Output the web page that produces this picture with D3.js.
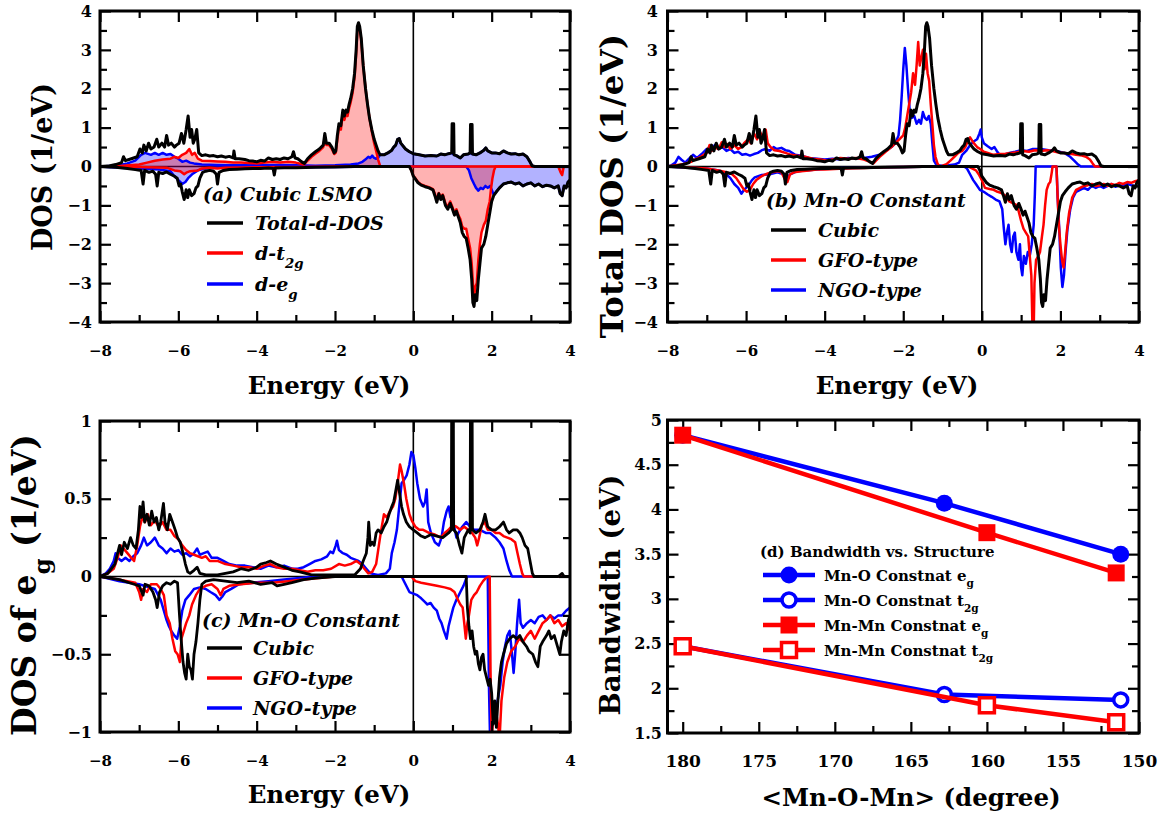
<!DOCTYPE html>
<html>
<head>
<meta charset="utf-8">
<script src="https://cdn.jsdelivr.net/npm/d3@7"></script>
<style>
  body { margin: 0; background: #fff; }
  svg { display: block; }
  text { font-family: "DejaVu Serif", serif; font-weight: bold; fill: #000; }
</style>
</head>
<body>
<svg id="fig" width="1167" height="816"></svg>
<script>
// ---------- Energy-resolved DOS, [E (eV), DOS (1/eV)] pairs ----------

// Cubic LSMO, total Mn-d DOS (shared by panels a and b)
const cubicTotUp = [[-8,0],[-7.8,0.01],[-7.6,0.05],[-7.45,0.1],[-7.4,0.25],[-7.35,0.15],[-7.2,0.2],[-7.05,0.25],[-6.98,0.45],[-6.92,0.35],[-6.88,0.55],[-6.82,0.4],[-6.76,0.6],[-6.7,0.45],[-6.62,0.5],[-6.55,0.7],[-6.5,0.5],[-6.42,0.6],[-6.35,0.5],[-6.3,0.8],[-6.25,0.55],[-6.18,0.6],[-6.1,0.5],[-6.05,0.55],[-5.98,0.6],[-5.92,0.85],[-5.86,0.6],[-5.8,0.95],[-5.75,1.3],[-5.7,0.75],[-5.66,0.95],[-5.62,0.6],[-5.58,0.7],[-5.53,0.95],[-5.48,0.35],[-5.4,0.28],[-5.3,0.3],[-5.2,0.27],[-5.1,0.28],[-5.0,0.25],[-4.9,0.27],[-4.8,0.24],[-4.7,0.26],[-4.6,0.22],[-4.58,0.4],[-4.55,0.2],[-4.45,0.2],[-4.3,0.18],[-4.2,0.15],[-4.1,0.14],[-4.0,0.12],[-3.9,0.16],[-3.8,0.14],[-3.7,0.22],[-3.6,0.18],[-3.5,0.2],[-3.4,0.18],[-3.3,0.22],[-3.2,0.2],[-3.1,0.25],[-3.06,0.38],[-3.02,0.22],[-2.95,0.2],[-2.85,0.12],[-2.78,0.08],[-2.7,0.2],[-2.6,0.3],[-2.5,0.38],[-2.4,0.45],[-2.3,0.55],[-2.26,0.85],[-2.22,0.6],[-2.15,0.6],[-2.08,0.5],[-2.02,0.35],[-1.98,0.4],[-1.94,0.8],[-1.9,1.1],[-1.85,1.05],[-1.8,1.45],[-1.76,1.3],[-1.72,1.45],[-1.68,1.4],[-1.64,1.6],[-1.6,1.75],[-1.55,2.0],[-1.5,2.4],[-1.46,3.0],[-1.43,3.6],[-1.4,3.7],[-1.37,3.6],[-1.33,3.3],[-1.28,2.6],[-1.22,2.0],[-1.17,1.6],[-1.12,1.25],[-1.06,0.95],[-1.0,0.7],[-0.95,0.55],[-0.9,0.4],[-0.85,0.3],[-0.75,0.3],[-0.65,0.35],[-0.55,0.42],[-0.5,0.5],[-0.45,0.55],[-0.4,0.7],[-0.36,0.72],[-0.32,0.6],[-0.28,0.55],[-0.2,0.45],[-0.1,0.38],[0,0.33],[0.15,0.3],[0.3,0.27],[0.45,0.28],[0.6,0.27],[0.7,0.32],[0.8,0.3],[0.9,0.33],[0.98,0.35],[0.99,1.1],[1.03,1.1],[1.04,0.3],[1.1,0.28],[1.2,0.22],[1.28,0.3],[1.4,0.32],[1.45,0.35],[1.46,1.08],[1.5,1.08],[1.51,0.32],[1.6,0.3],[1.7,0.35],[1.8,0.42],[1.85,0.48],[1.9,0.4],[2.0,0.35],[2.1,0.35],[2.2,0.33],[2.3,0.4],[2.4,0.35],[2.5,0.32],[2.6,0.33],[2.7,0.3],[2.8,0.32],[2.9,0.25],[2.98,0.12],[3.03,0.02],[3.1,0],[4,0]];
const cubicTotDn = [[-8,0],[-7.6,-0.02],[-7.3,-0.05],[-7.1,-0.08],[-6.95,-0.1],[-6.9,-0.45],[-6.86,-0.1],[-6.75,-0.15],[-6.65,-0.12],[-6.58,-0.2],[-6.54,-0.5],[-6.5,-0.15],[-6.4,-0.18],[-6.3,-0.14],[-6.2,-0.2],[-6.1,-0.25],[-6.03,-0.3],[-5.98,-0.5],[-5.94,-0.45],[-5.9,-0.65],[-5.85,-0.85],[-5.8,-0.6],[-5.76,-0.8],[-5.72,-0.6],[-5.66,-0.75],[-5.6,-0.7],[-5.55,-0.55],[-5.5,-0.5],[-5.45,-0.3],[-5.38,-0.15],[-5.3,-0.12],[-5.2,-0.1],[-5.1,-0.12],[-5.03,-0.2],[-5.0,-0.45],[-4.96,-0.15],[-4.85,-0.1],[-4.7,-0.08],[-4.5,-0.07],[-4.3,-0.06],[-4.1,-0.05],[-3.9,-0.05],[-3.7,-0.04],[-3.58,-0.05],[-3.55,-0.22],[-3.52,-0.04],[-3.3,-0.03],[-3.0,-0.03],[-2.5,-0.02],[-2.0,-0.01],[-1.5,0],[-0.1,0],[-0.05,-0.1],[0.0,-0.25],[0.05,-0.32],[0.12,-0.42],[0.2,-0.48],[0.3,-0.52],[0.4,-0.55],[0.5,-0.6],[0.55,-0.75],[0.6,-0.92],[0.65,-0.7],[0.7,-0.85],[0.75,-0.75],[0.82,-1.0],[0.88,-1.1],[0.94,-0.95],[1.0,-1.1],[1.05,-1.25],[1.1,-1.15],[1.15,-1.3],[1.2,-1.45],[1.25,-1.7],[1.3,-1.8],[1.35,-1.85],[1.4,-2.1],[1.45,-2.4],[1.49,-2.9],[1.52,-3.5],[1.55,-3.6],[1.58,-3.3],[1.62,-3.45],[1.66,-2.9],[1.7,-2.5],[1.74,-2.1],[1.8,-2.0],[1.85,-1.8],[1.9,-1.5],[1.95,-1.2],[2.0,-0.9],[2.05,-0.75],[2.12,-0.65],[2.2,-0.55],[2.3,-0.45],[2.4,-0.42],[2.5,-0.4],[2.6,-0.45],[2.7,-0.42],[2.8,-0.5],[2.9,-0.45],[3.0,-0.42],[3.1,-0.5],[3.2,-0.45],[3.3,-0.52],[3.4,-0.48],[3.5,-0.5],[3.6,-0.55],[3.7,-0.5],[3.75,-0.7],[3.8,-0.75],[3.85,-0.5],[3.9,-0.55],[3.95,-0.4],[4,-0.35]];

// Cubic LSMO, t2g and eg projections (panel a)
const lsmoT2gUp = [[-8,0],[-7.5,0.01],[-7.0,0.05],[-6.8,0.1],[-6.6,0.15],[-6.4,0.18],[-6.2,0.2],[-6.1,0.25],[-6.0,0.22],[-5.9,0.3],[-5.8,0.35],[-5.72,0.45],[-5.65,0.3],[-5.58,0.35],[-5.5,0.2],[-5.4,0.15],[-5.2,0.14],[-5.0,0.13],[-4.8,0.12],[-4.6,0.1],[-4.4,0.1],[-4.2,0.09],[-4.0,0.08],[-3.8,0.1],[-3.6,0.12],[-3.4,0.1],[-3.2,0.12],[-3.0,0.1],[-2.8,0.05],[-2.7,0.15],[-2.6,0.25],[-2.5,0.33],[-2.4,0.4],[-2.3,0.5],[-2.26,0.75],[-2.22,0.55],[-2.15,0.55],[-2.08,0.45],[-2.02,0.32],[-1.98,0.36],[-1.94,0.7],[-1.9,1.0],[-1.85,0.95],[-1.8,1.35],[-1.76,1.2],[-1.72,1.35],[-1.68,1.3],[-1.64,1.5],[-1.6,1.65],[-1.55,1.9],[-1.5,2.3],[-1.46,2.9],[-1.43,3.5],[-1.4,3.62],[-1.37,3.55],[-1.33,3.25],[-1.28,2.6],[-1.22,2.0],[-1.17,1.6],[-1.12,1.25],[-1.06,0.9],[-1.0,0.6],[-0.95,0.4],[-0.9,0.18],[-0.85,0.02],[-0.82,0],[4,0]];
const lsmoT2gDn = [[-8,0],[-7,-0.01],[-6.3,-0.03],[-6.1,-0.1],[-5.95,-0.12],[-5.85,-0.2],[-5.78,-0.15],[-5.7,-0.12],[-5.5,-0.1],[-5.4,-0.05],[-5.2,-0.03],[-5.0,-0.05],[-4.8,-0.03],[-4,-0.02],[-3,-0.01],[-2,0],[-0.1,0],[-0.05,-0.1],[0.0,-0.24],[0.05,-0.3],[0.12,-0.4],[0.2,-0.46],[0.3,-0.5],[0.4,-0.53],[0.5,-0.58],[0.55,-0.7],[0.6,-0.88],[0.65,-0.68],[0.7,-0.8],[0.75,-0.72],[0.82,-0.95],[0.88,-1.05],[0.94,-0.9],[1.0,-1.05],[1.05,-1.2],[1.1,-1.1],[1.15,-1.25],[1.2,-1.35],[1.25,-1.55],[1.3,-1.6],[1.35,-1.6],[1.4,-1.85],[1.45,-2.1],[1.49,-2.5],[1.52,-3.0],[1.55,-3.4],[1.58,-3.1],[1.62,-3.0],[1.66,-2.4],[1.7,-2.0],[1.74,-1.7],[1.8,-1.5],[1.85,-1.4],[1.9,-1.1],[1.95,-0.9],[1.98,-0.6],[2.02,-0.3],[2.06,-0.1],[2.1,0],[3.7,0],[3.76,-0.15],[3.8,-0.22],[3.84,0],[4,0]];
const lsmoEgUp = [[-8,0],[-7.6,0.02],[-7.3,0.08],[-7.1,0.15],[-6.95,0.3],[-6.85,0.35],[-6.7,0.3],[-6.6,0.35],[-6.5,0.3],[-6.4,0.35],[-6.3,0.3],[-6.2,0.32],[-6.1,0.25],[-6.0,0.2],[-5.9,0.12],[-5.8,0.15],[-5.7,0.1],[-5.6,0.08],[-5.4,0.05],[-5.0,0.04],[-4.5,0.03],[-4.0,0.03],[-3.5,0.04],[-3.0,0.03],[-2.5,0.02],[-2.0,0.03],[-1.6,0.05],[-1.4,0.08],[-1.3,0.12],[-1.2,0.2],[-1.15,0.25],[-1.1,0.22],[-1.05,0.28],[-1.0,0.22],[-0.95,0.2],[-0.9,0.22],[-0.85,0.3],[-0.75,0.3],[-0.65,0.35],[-0.55,0.42],[-0.5,0.5],[-0.45,0.55],[-0.4,0.7],[-0.36,0.72],[-0.32,0.6],[-0.28,0.55],[-0.2,0.45],[-0.1,0.38],[0,0.33],[0.15,0.3],[0.3,0.27],[0.45,0.28],[0.6,0.27],[0.7,0.32],[0.8,0.3],[0.9,0.33],[0.98,0.35],[1.04,0.3],[1.1,0.28],[1.2,0.22],[1.28,0.3],[1.4,0.32],[1.45,0.35],[1.51,0.32],[1.6,0.3],[1.7,0.35],[1.8,0.42],[1.85,0.48],[1.9,0.4],[2.0,0.35],[2.1,0.35],[2.2,0.33],[2.3,0.4],[2.4,0.35],[2.5,0.32],[2.6,0.33],[2.7,0.3],[2.8,0.32],[2.9,0.25],[2.98,0.12],[3.03,0.02],[3.1,0],[4,0]];
const lsmoEgDn = [[-8,0],[-7.5,-0.03],[-7,-0.05],[-6.5,-0.08],[-6.2,-0.12],[-6.1,-0.25],[-6.0,-0.35],[-5.9,-0.45],[-5.82,-0.4],[-5.75,-0.3],[-5.65,-0.2],[-5.5,-0.1],[-5.3,-0.05],[-5,-0.03],[-4,-0.02],[-3,-0.02],[-2,-0.01],[-1,0],[1.35,0],[1.42,-0.1],[1.48,-0.3],[1.55,-0.45],[1.6,-0.55],[1.66,-0.62],[1.72,-0.55],[1.78,-0.58],[1.84,-0.5],[1.9,-0.55],[1.96,-0.5],[2.0,-0.6],[2.05,-0.72],[2.12,-0.65],[2.2,-0.55],[2.3,-0.45],[2.4,-0.42],[2.5,-0.4],[2.6,-0.45],[2.7,-0.42],[2.8,-0.5],[2.9,-0.45],[3.0,-0.42],[3.1,-0.5],[3.2,-0.45],[3.3,-0.52],[3.4,-0.48],[3.5,-0.5],[3.6,-0.55],[3.7,-0.5],[3.75,-0.7],[3.8,-0.75],[3.85,-0.5],[3.9,-0.55],[3.95,-0.4],[4,-0.35]];

// Mn-O constant distortions, total Mn-d DOS (panel b)
const gfoUp = [[-8,0],[-7.8,0.03],[-7.6,0.06],[-7.4,0.12],[-7.3,0.18],[-7.15,0.25],[-7.0,0.35],[-6.93,0.55],[-6.88,0.4],[-6.8,0.5],[-6.7,0.45],[-6.62,0.62],[-6.55,0.5],[-6.48,0.58],[-6.4,0.45],[-6.3,0.55],[-6.2,0.45],[-6.12,0.5],[-6.05,0.6],[-5.95,0.7],[-5.88,0.6],[-5.8,0.85],[-5.72,0.7],[-5.65,0.9],[-5.58,0.75],[-5.5,0.95],[-5.45,0.6],[-5.38,0.5],[-5.28,0.42],[-5.15,0.4],[-5.0,0.35],[-4.85,0.3],[-4.7,0.28],[-4.5,0.25],[-4.3,0.2],[-4.1,0.18],[-3.95,0.15],[-3.8,0.18],[-3.6,0.22],[-3.4,0.2],[-3.2,0.22],[-3.0,0.18],[-2.85,0.12],[-2.76,0.08],[-2.6,0.25],[-2.45,0.38],[-2.3,0.5],[-2.2,0.6],[-2.1,0.7],[-2.0,0.8],[-1.95,1.0],[-1.9,1.3],[-1.85,1.6],[-1.8,1.9],[-1.75,2.4],[-1.7,2.1],[-1.66,2.6],[-1.62,3.2],[-1.58,2.6],[-1.54,2.8],[-1.5,3.0],[-1.46,2.5],[-1.42,2.9],[-1.38,2.4],[-1.34,2.2],[-1.3,1.6],[-1.26,1.1],[-1.22,0.55],[-1.18,0.25],[-1.13,0.08],[-1.08,0.0],[-1.0,0.02],[-0.9,0.06],[-0.8,0.15],[-0.7,0.25],[-0.6,0.35],[-0.5,0.4],[-0.42,0.5],[-0.36,0.65],[-0.3,0.75],[-0.22,0.62],[-0.12,0.5],[-0.04,0.45],[0.05,0.38],[0.15,0.35],[0.3,0.3],[0.45,0.32],[0.6,0.33],[0.75,0.35],[0.9,0.37],[1.05,0.4],[1.2,0.38],[1.35,0.42],[1.5,0.4],[1.65,0.42],[1.8,0.4],[1.95,0.36],[2.1,0.35],[2.25,0.33],[2.4,0.3],[2.55,0.28],[2.65,0.25],[2.75,0.18],[2.82,0.08],[2.88,0.0],[4,0]];
const gfoDn = [[-8,0],[-7.5,-0.02],[-7.0,-0.05],[-6.7,-0.1],[-6.5,-0.15],[-6.35,-0.2],[-6.25,-0.3],[-6.15,-0.45],[-6.05,-0.6],[-5.98,-0.65],[-5.9,-0.6],[-5.82,-0.45],[-5.74,-0.35],[-5.65,-0.28],[-5.55,-0.22],[-5.45,-0.18],[-5.35,-0.15],[-5.2,-0.12],[-5.1,-0.15],[-5.0,-0.35],[-4.95,-0.4],[-4.88,-0.2],[-4.78,-0.15],[-4.6,-0.12],[-4.4,-0.1],[-4.2,-0.08],[-4.0,-0.08],[-3.5,-0.05],[-3.0,-0.04],[-2.5,-0.02],[-2.0,-0.01],[-1.0,0],[-0.35,0],[-0.25,-0.05],[-0.15,-0.1],[-0.08,-0.2],[0.0,-0.35],[0.08,-0.55],[0.2,-0.58],[0.3,-0.6],[0.4,-0.65],[0.5,-0.68],[0.6,-0.75],[0.7,-0.9],[0.8,-0.95],[0.9,-1.0],[0.95,-1.2],[1.0,-1.4],[1.06,-1.6],[1.12,-1.7],[1.18,-1.8],[1.22,-2.3],[1.26,-2.8],[1.29,-4.2],[1.32,-4.2],[1.34,-3.0],[1.38,-2.4],[1.44,-2.3],[1.48,-2.2],[1.53,-1.8],[1.57,-1.5],[1.61,-1.0],[1.65,-0.6],[1.7,-0.45],[1.74,-0.4],[1.78,-0.15],[1.8,0.0],[1.9,0.0],[1.93,-0.8],[1.96,-1.5],[2.0,-2.0],[2.04,-2.4],[2.08,-2.6],[2.12,-2.2],[2.16,-1.7],[2.22,-1.2],[2.3,-0.8],[2.4,-0.6],[2.5,-0.55],[2.6,-0.5],[2.7,-0.48],[2.8,-0.45],[2.9,-0.5],[3.0,-0.48],[3.1,-0.45],[3.2,-0.5],[3.3,-0.45],[3.4,-0.48],[3.5,-0.42],[3.6,-0.45],[3.7,-0.4],[3.8,-0.42],[3.9,-0.38],[4.0,-0.35]];
const ngoUp = [[-8,0],[-7.9,0.03],[-7.8,0.1],[-7.72,0.25],[-7.65,0.18],[-7.55,0.1],[-7.45,0.2],[-7.35,0.3],[-7.25,0.22],[-7.1,0.35],[-7.0,0.45],[-6.9,0.4],[-6.8,0.55],[-6.7,0.45],[-6.6,0.5],[-6.5,0.4],[-6.4,0.45],[-6.3,0.35],[-6.2,0.38],[-6.1,0.3],[-6.0,0.32],[-5.9,0.28],[-5.8,0.32],[-5.7,0.35],[-5.6,0.42],[-5.5,0.45],[-5.4,0.4],[-5.3,0.5],[-5.22,0.45],[-5.1,0.48],[-5.0,0.42],[-4.9,0.4],[-4.75,0.3],[-4.6,0.28],[-4.4,0.22],[-4.2,0.2],[-4.0,0.18],[-3.8,0.2],[-3.6,0.18],[-3.4,0.22],[-3.2,0.2],[-3.0,0.22],[-2.8,0.25],[-2.6,0.3],[-2.45,0.4],[-2.3,0.5],[-2.2,0.6],[-2.12,0.8],[-2.08,1.2],[-2.04,1.8],[-2.0,2.5],[-1.96,3.05],[-1.92,2.6],[-1.88,2.0],[-1.84,1.5],[-1.78,1.25],[-1.72,1.3],[-1.66,1.1],[-1.6,1.2],[-1.55,1.1],[-1.5,1.4],[-1.45,1.25],[-1.4,1.2],[-1.35,1.3],[-1.3,1.1],[-1.26,0.6],[-1.22,0.15],[-1.15,0.03],[-1.0,0.02],[-0.85,0.03],[-0.7,0.05],[-0.58,0.1],[-0.5,0.3],[-0.4,0.4],[-0.3,0.55],[-0.2,0.65],[-0.12,0.7],[-0.06,0.85],[-0.03,0.95],[0.0,0.75],[0.05,0.6],[0.15,0.52],[0.25,0.45],[0.32,0.5],[0.38,0.4],[0.45,0.3],[0.55,0.3],[0.7,0.35],[0.85,0.38],[1.0,0.42],[1.15,0.4],[1.3,0.45],[1.5,0.45],[1.7,0.42],[1.9,0.4],[2.1,0.35],[2.25,0.25],[2.35,0.15],[2.45,0.05],[2.52,0.0],[4,0]];
const ngoDn = [[-8,0],[-7.5,-0.03],[-7.0,-0.05],[-6.7,-0.1],[-6.5,-0.2],[-6.4,-0.3],[-6.3,-0.45],[-6.2,-0.55],[-6.12,-0.7],[-6.05,-0.6],[-5.95,-0.5],[-5.85,-0.35],[-5.78,-0.28],[-5.6,-0.22],[-5.4,-0.2],[-5.2,-0.15],[-5.05,-0.2],[-4.95,-0.28],[-4.88,-0.2],[-4.7,-0.12],[-4.5,-0.1],[-4.2,-0.08],[-4.0,-0.06],[-3.5,-0.04],[-3.0,-0.03],[-2.5,-0.02],[-2.0,-0.01],[-1.0,0],[-0.45,0],[-0.38,-0.05],[-0.3,-0.2],[-0.22,-0.35],[-0.15,-0.45],[-0.05,-0.6],[0.05,-0.65],[0.15,-0.72],[0.25,-0.78],[0.35,-0.85],[0.45,-0.9],[0.52,-1.1],[0.56,-1.6],[0.6,-2.0],[0.64,-1.7],[0.68,-1.5],[0.72,-2.0],[0.76,-2.2],[0.8,-1.8],[0.84,-1.7],[0.88,-2.2],[0.93,-2.4],[0.97,-2.0],[1.0,-2.6],[1.03,-2.8],[1.07,-2.3],[1.12,-2.5],[1.17,-2.2],[1.22,-2.3],[1.27,-2.0],[1.32,-1.5],[1.35,-0.7],[1.37,0.0],[1.9,0.0],[1.93,-0.8],[1.97,-1.6],[2.01,-2.6],[2.05,-3.1],[2.09,-2.8],[2.13,-2.2],[2.18,-1.6],[2.25,-1.1],[2.32,-0.8],[2.4,-0.65],[2.5,-0.6],[2.6,-0.55],[2.7,-0.6],[2.8,-0.5],[2.9,-0.55],[3.0,-0.5],[3.1,-0.55],[3.2,-0.5],[3.3,-0.45],[3.4,-0.52],[3.5,-0.48],[3.6,-0.5],[3.7,-0.45],[3.8,-0.48],[3.9,-0.5],[4.0,-0.5]];

// Mn-O constant distortions, eg-projected DOS (panel c)
const cubicEgUp = [[-8,0],[-7.8,0.02],[-7.62,0.08],[-7.55,0.15],[-7.5,0.2],[-7.45,0.14],[-7.38,0.22],[-7.3,0.18],[-7.22,0.25],[-7.15,0.2],[-7.08,0.18],[-7.02,0.3],[-6.98,0.45],[-6.94,0.38],[-6.9,0.48],[-6.86,0.35],[-6.8,0.4],[-6.74,0.33],[-6.68,0.42],[-6.62,0.35],[-6.56,0.38],[-6.5,0.3],[-6.45,0.35],[-6.38,0.47],[-6.34,0.35],[-6.28,0.3],[-6.22,0.4],[-6.15,0.35],[-6.08,0.3],[-6.02,0.25],[-5.95,0.22],[-5.88,0.15],[-5.82,0.08],[-5.76,0.03],[-5.7,0.02],[-5.6,0.04],[-5.52,0.06],[-5.45,0.02],[-5.3,0.01],[-5.0,0.01],[-4.8,0.02],[-4.6,0.03],[-4.4,0.05],[-4.2,0.04],[-4.0,0.06],[-3.9,0.08],[-3.75,0.09],[-3.65,0.1],[-3.5,0.08],[-3.3,0.06],[-3.1,0.04],[-2.9,0.03],[-2.6,0.01],[-2.0,0.01],[-1.5,0.01],[-1.35,0.05],[-1.28,0.1],[-1.2,0.15],[-1.16,0.25],[-1.14,0.35],[-1.1,0.2],[-1.05,0.22],[-1.0,0.2],[-0.95,0.28],[-0.9,0.3],[-0.82,0.28],[-0.75,0.32],[-0.68,0.35],[-0.62,0.4],[-0.55,0.45],[-0.5,0.48],[-0.45,0.55],[-0.4,0.62],[-0.36,0.55],[-0.3,0.45],[-0.25,0.4],[-0.18,0.35],[-0.1,0.32],[0.0,0.3],[0.1,0.28],[0.2,0.26],[0.3,0.25],[0.45,0.27],[0.6,0.26],[0.75,0.25],[0.9,0.28],[0.97,0.3],[0.98,1.2],[1.02,1.2],[1.03,0.3],[1.1,0.28],[1.18,0.2],[1.24,0.15],[1.3,0.25],[1.4,0.3],[1.45,0.28],[1.46,1.2],[1.5,1.2],[1.51,0.3],[1.6,0.28],[1.7,0.3],[1.78,0.35],[1.83,0.4],[1.9,0.32],[2.0,0.3],[2.1,0.3],[2.2,0.32],[2.3,0.35],[2.38,0.3],[2.45,0.28],[2.55,0.3],[2.65,0.3],[2.72,0.28],[2.78,0.25],[2.85,0.2],[2.92,0.18],[2.98,0.1],[3.04,0.02],[3.08,0.0],[3.7,0.0],[3.8,0.02],[3.85,0.0],[4,0]];
const cubicEgDn = [[-8,0],[-7.5,-0.02],[-7.13,-0.05],[-7.0,-0.06],[-6.9,-0.12],[-6.85,-0.05],[-6.75,-0.06],[-6.65,-0.1],[-6.58,-0.15],[-6.54,-0.2],[-6.48,-0.1],[-6.4,-0.06],[-6.3,-0.04],[-6.2,-0.05],[-6.1,-0.03],[-6.02,-0.04],[-5.97,-0.25],[-5.93,-0.4],[-5.88,-0.55],[-5.84,-0.62],[-5.8,-0.66],[-5.76,-0.5],[-5.72,-0.58],[-5.68,-0.6],[-5.64,-0.66],[-5.6,-0.5],[-5.55,-0.42],[-5.5,-0.3],[-5.45,-0.15],[-5.4,-0.05],[-5.3,-0.03],[-5.1,-0.02],[-4.8,-0.03],[-4.5,-0.04],[-4.2,-0.03],[-3.9,-0.05],[-3.6,-0.04],[-3.48,-0.06],[-3.3,-0.05],[-3.1,-0.04],[-2.8,-0.02],[-2.5,-0.01],[-2.0,0],[1.35,0],[1.38,-0.2],[1.42,-0.32],[1.46,-0.4],[1.5,-0.35],[1.54,-0.45],[1.58,-0.5],[1.62,-0.48],[1.66,-0.56],[1.7,-0.6],[1.74,-0.52],[1.78,-0.5],[1.82,-0.6],[1.87,-0.65],[1.92,-0.7],[1.96,-0.66],[2.0,-0.75],[2.04,-0.95],[2.08,-0.8],[2.12,-0.97],[2.16,-0.8],[2.2,-0.65],[2.25,-0.55],[2.3,-0.5],[2.38,-0.43],[2.46,-0.4],[2.55,-0.38],[2.64,-0.4],[2.72,-0.38],[2.8,-0.42],[2.89,-0.45],[2.95,-0.48],[3.05,-0.5],[3.12,-0.55],[3.18,-0.58],[3.24,-0.45],[3.3,-0.42],[3.4,-0.38],[3.46,-0.35],[3.52,-0.4],[3.6,-0.38],[3.68,-0.45],[3.74,-0.5],[3.78,-0.42],[3.84,-0.35],[3.9,-0.38],[3.96,-0.28],[4,-0.25]];
const gfoEgUp = [[-8,0],[-7.8,0.02],[-7.65,0.05],[-7.55,0.12],[-7.47,0.2],[-7.4,0.18],[-7.3,0.15],[-7.2,0.12],[-7.13,0.1],[-7.05,0.2],[-6.98,0.32],[-6.92,0.38],[-6.85,0.35],[-6.78,0.4],[-6.7,0.33],[-6.6,0.36],[-6.5,0.32],[-6.4,0.35],[-6.3,0.3],[-6.2,0.3],[-6.1,0.26],[-6.0,0.24],[-5.9,0.2],[-5.8,0.17],[-5.7,0.15],[-5.6,0.14],[-5.5,0.13],[-5.4,0.12],[-5.3,0.13],[-5.2,0.1],[-5.0,0.1],[-4.8,0.08],[-4.6,0.07],[-4.4,0.06],[-4.2,0.06],[-4.0,0.05],[-3.8,0.07],[-3.65,0.08],[-3.5,0.06],[-3.3,0.05],[-3.1,0.05],[-2.9,0.04],[-2.7,0.03],[-2.5,0.04],[-2.3,0.04],[-2.1,0.05],[-1.9,0.08],[-1.75,0.07],[-1.6,0.08],[-1.45,0.1],[-1.35,0.08],[-1.25,0.05],[-1.15,0.02],[-1.05,0.03],[-0.95,0.08],[-0.88,0.2],[-0.82,0.3],[-0.75,0.4],[-0.68,0.38],[-0.6,0.42],[-0.52,0.45],[-0.46,0.5],[-0.4,0.6],[-0.34,0.72],[-0.3,0.68],[-0.24,0.6],[-0.18,0.5],[-0.1,0.4],[-0.04,0.36],[0.05,0.32],[0.15,0.3],[0.25,0.3],[0.4,0.28],[0.55,0.27],[0.7,0.25],[0.8,0.28],[0.9,0.3],[1.0,0.33],[1.1,0.32],[1.2,0.3],[1.3,0.32],[1.4,0.3],[1.5,0.28],[1.58,0.25],[1.63,0.2],[1.68,0.25],[1.75,0.33],[1.82,0.35],[1.9,0.3],[2.0,0.3],[2.1,0.28],[2.2,0.28],[2.3,0.26],[2.4,0.25],[2.5,0.24],[2.6,0.22],[2.66,0.15],[2.72,0.08],[2.78,0.02],[2.82,0.0],[4,0]];
const gfoEgDn = [[-8,0],[-7.5,-0.02],[-7.1,-0.04],[-7.0,-0.1],[-6.95,-0.15],[-6.9,-0.08],[-6.8,-0.1],[-6.7,-0.05],[-6.55,-0.05],[-6.45,-0.08],[-6.37,-0.12],[-6.3,-0.25],[-6.22,-0.3],[-6.15,-0.4],[-6.08,-0.48],[-6.02,-0.5],[-5.96,-0.55],[-5.92,-0.4],[-5.86,-0.35],[-5.8,-0.3],[-5.72,-0.25],[-5.65,-0.18],[-5.55,-0.12],[-5.45,-0.08],[-5.3,-0.06],[-5.15,-0.05],[-5.0,-0.08],[-4.92,-0.12],[-4.85,-0.08],[-4.7,-0.06],[-4.4,-0.05],[-4.0,-0.04],[-3.6,-0.04],[-3.2,-0.03],[-2.8,-0.02],[-2.4,-0.01],[-2.0,0],[-0.05,0],[0.05,-0.03],[0.2,-0.04],[0.4,-0.05],[0.6,-0.06],[0.8,-0.07],[0.95,-0.08],[1.05,-0.1],[1.12,-0.14],[1.2,-0.18],[1.26,-0.2],[1.3,-0.3],[1.34,-0.4],[1.38,-0.3],[1.42,-0.25],[1.48,-0.15],[1.55,-0.12],[1.62,-0.1],[1.7,-0.06],[1.78,-0.03],[1.85,-0.01],[1.92,0],[1.95,0],[1.97,-0.6],[2.0,-1.05],[2.04,-0.9],[2.1,-0.85],[2.16,-0.95],[2.2,-1.05],[2.25,-0.8],[2.32,-0.65],[2.4,-0.55],[2.5,-0.48],[2.6,-0.45],[2.7,-0.4],[2.8,-0.42],[2.9,-0.38],[3.0,-0.35],[3.1,-0.4],[3.2,-0.35],[3.3,-0.3],[3.4,-0.28],[3.5,-0.25],[3.6,-0.3],[3.7,-0.28],[3.8,-0.32],[3.9,-0.3],[4,-0.35]];
const ngoEgUp = [[-8,0],[-7.85,0.02],[-7.75,0.05],[-7.65,0.1],[-7.6,0.15],[-7.55,0.12],[-7.45,0.1],[-7.35,0.12],[-7.25,0.1],[-7.15,0.13],[-7.05,0.15],[-6.95,0.2],[-6.88,0.25],[-6.8,0.2],[-6.7,0.22],[-6.6,0.25],[-6.5,0.2],[-6.4,0.18],[-6.3,0.15],[-6.2,0.18],[-6.1,0.16],[-6.0,0.17],[-5.9,0.14],[-5.8,0.15],[-5.7,0.13],[-5.6,0.15],[-5.52,0.18],[-5.45,0.14],[-5.35,0.15],[-5.25,0.16],[-5.15,0.12],[-5.0,0.12],[-4.85,0.1],[-4.7,0.08],[-4.5,0.07],[-4.3,0.07],[-4.1,0.06],[-3.9,0.05],[-3.7,0.07],[-3.5,0.06],[-3.3,0.07],[-3.1,0.05],[-2.95,0.05],[-2.8,0.06],[-2.65,0.08],[-2.5,0.1],[-2.35,0.11],[-2.2,0.13],[-2.12,0.16],[-2.05,0.15],[-1.98,0.2],[-1.95,0.23],[-1.9,0.17],[-1.8,0.15],[-1.7,0.14],[-1.6,0.12],[-1.5,0.11],[-1.4,0.1],[-1.3,0.08],[-1.2,0.05],[-1.1,0.02],[-0.9,0.01],[-0.7,0.02],[-0.6,0.05],[-0.55,0.15],[-0.48,0.22],[-0.42,0.3],[-0.36,0.45],[-0.3,0.6],[-0.24,0.62],[-0.17,0.65],[-0.1,0.72],[-0.05,0.8],[0.0,0.78],[0.05,0.7],[0.1,0.6],[0.17,0.5],[0.25,0.45],[0.3,0.48],[0.34,0.56],[0.38,0.35],[0.45,0.28],[0.55,0.22],[0.65,0.2],[0.72,0.25],[0.78,0.35],[0.85,0.42],[0.9,0.45],[0.95,0.38],[1.02,0.35],[1.1,0.25],[1.15,0.28],[1.25,0.32],[1.35,0.35],[1.45,0.32],[1.55,0.3],[1.7,0.3],[1.85,0.28],[1.96,0.28],[2.1,0.25],[2.2,0.22],[2.3,0.18],[2.38,0.1],[2.45,0.04],[2.52,0.0],[4,0]];
const ngoEgDn = [[-8,0],[-7.5,-0.03],[-7.0,-0.05],[-6.6,-0.08],[-6.45,-0.15],[-6.37,-0.22],[-6.3,-0.28],[-6.24,-0.32],[-6.18,-0.35],[-6.1,-0.38],[-6.03,-0.4],[-5.96,-0.32],[-5.9,-0.22],[-5.82,-0.15],[-5.72,-0.12],[-5.6,-0.08],[-5.45,-0.07],[-5.3,-0.08],[-5.18,-0.1],[-5.05,-0.12],[-4.95,-0.15],[-4.88,-0.13],[-4.8,-0.1],[-4.65,-0.08],[-4.45,-0.05],[-4.1,-0.04],[-3.7,-0.03],[-3.3,-0.02],[-2.9,-0.01],[-2.5,0],[-0.3,0],[-0.2,-0.05],[-0.1,-0.1],[0.0,-0.11],[0.1,-0.12],[0.2,-0.14],[0.28,-0.16],[0.36,-0.18],[0.44,-0.17],[0.52,-0.2],[0.6,-0.22],[0.66,-0.27],[0.72,-0.3],[0.78,-0.35],[0.85,-0.4],[0.9,-0.32],[0.96,-0.26],[1.02,-0.2],[1.1,-0.15],[1.2,-0.1],[1.28,-0.06],[1.34,-0.02],[1.38,0.0],[1.9,0.0],[1.93,-0.7],[1.96,-1.05],[2.02,-0.95],[2.08,-0.9],[2.15,-0.8],[2.22,-0.7],[2.28,-0.55],[2.34,-0.45],[2.4,-0.38],[2.46,-0.35],[2.52,-0.5],[2.56,-0.62],[2.6,-0.5],[2.65,-0.3],[2.7,-0.15],[2.74,-0.3],[2.8,-0.33],[2.9,-0.3],[3.0,-0.28],[3.1,-0.3],[3.2,-0.26],[3.3,-0.25],[3.4,-0.28],[3.5,-0.25],[3.6,-0.27],[3.7,-0.25],[3.8,-0.25],[3.9,-0.22],[4,-0.2]];

// Bandwidth vs. mean Mn-O-Mn angle (panel d)
const mnOAngle   = [180, 162.8, 151.2];
const mnOEg      = [4.83, 4.07, 3.50];
const mnOT2g     = [2.47, 1.93, 1.87];
const mnMnAngle  = [180, 160.0, 151.5];
const mnMnEg     = [4.83, 3.74, 3.29];
const mnMnT2g    = [2.47, 1.81, 1.62];

// Tick values
const energyMajor = [-8, -6, -4, -2, 0, 2, 4];
const energyMinor = [-7, -5, -3, -1, 1, 3];
const dosMajor = [-4, -3, -2, -1, 0, 1, 2, 3, 4];
const dosMinor = [-3.5, -2.5, -1.5, -0.5, 0.5, 1.5, 2.5, 3.5];
const egMajor = [-1, -0.5, 0, 0.5, 1];
const egMinor = [-0.75, -0.25, 0.25, 0.75];
const angleMajor = [180, 175, 170, 165, 160, 155, 150];
const angleMinor = [177.5, 172.5, 167.5, 162.5, 157.5, 152.5];
const bwMajor = [1.5, 2, 2.5, 3, 3.5, 4, 4.5, 5];
const bwMinor = [1.75, 2.25, 2.75, 3.25, 3.75, 4.25, 4.75];

const RED = "#ff0000", BLUE = "#0000ff", BLACK = "#000000";
const svg = d3.select("#fig");
const fmt = d3.format("");

function makePanel(p) {
  const x = d3.scaleLinear().domain(p.xDomain).range([p.x0, p.x1]);
  const y = d3.scaleLinear().domain(p.yDomain).range([p.y1, p.y0]);
  const g = svg.append("g");
  const id = "clip" + p.name;
  svg.append("clipPath").attr("id", id).append("rect")
    .attr("x", p.x0).attr("y", p.y0).attr("width", p.x1 - p.x0).attr("height", p.y1 - p.y0);
  const plot = g.append("g").attr("clip-path", `url(#${id})`);
  const axes = g.append("g");

  function axis(gen, tr, vals, size, labels, pad, fs) {
    const a = axes.append("g").attr("transform", tr)
      .call(gen.tickValues(vals).tickSize(size).tickPadding(pad || 3)
        .tickFormat(labels ? fmt : () => ""));
    a.select(".domain").remove();
    a.attr("font-family", null).attr("font-size", null);
    a.selectAll("line").attr("stroke", BLACK).attr("stroke-width", 2.2);
    a.selectAll("text").style("font-size", fs + "px");
  }
  const bt = `translate(0,${p.y1})`, tp = `translate(0,${p.y0})`;
  const lf = `translate(${p.x0},0)`, rt = `translate(${p.x1},0)`;
  axis(d3.axisBottom(x), bt, p.xMajor, -11, true, p.xPad, p.xFs);
  axis(d3.axisBottom(x), bt, p.xMinor, -7, false);
  axis(d3.axisTop(x), tp, p.xMajor, -11, false);
  axis(d3.axisTop(x), tp, p.xMinor, -7, false);
  axis(d3.axisLeft(y), lf, p.yMajor, -11, true, p.yPad, p.yFs);
  axis(d3.axisLeft(y), lf, p.yMinor, -7, false);
  axis(d3.axisRight(y), rt, p.yMajor, -11, false);
  axis(d3.axisRight(y), rt, p.yMinor, -7, false);
  axes.append("rect").attr("x", p.x0).attr("y", p.y0)
    .attr("width", p.x1 - p.x0).attr("height", p.y1 - p.y0)
    .attr("fill", "none").attr("stroke", BLACK).attr("stroke-width", 3);
  return { x, y, g, plot };
}

function addZeroLines(P) {
  const [ya, yb] = P.y.range();
  const [xa, xb] = P.x.range();
  P.plot.append("line").attr("x1", P.x(0)).attr("x2", P.x(0)).attr("y1", ya).attr("y2", yb)
    .attr("stroke", BLACK).attr("stroke-width", 1.6);
  P.plot.append("line").attr("x1", xa).attr("x2", xb).attr("y1", P.y(0)).attr("y2", P.y(0))
    .attr("stroke", BLACK).attr("stroke-width", 1.6);
}

function drawLine(P, data, color, w) {
  const line = d3.line().x(d => P.x(d[0])).y(d => P.y(d[1]));
  P.plot.append("path").datum(data).attr("d", line)
    .attr("fill", "none").attr("stroke", color).attr("stroke-width", w)
    .attr("stroke-linejoin", "round");
}

function drawFill(P, data, color) {
  const area = d3.area().x(d => P.x(d[0])).y0(P.y(0)).y1(d => P.y(d[1]));
  P.plot.append("path").datum(data).attr("d", area)
    .attr("fill", color).attr("fill-opacity", 0.3).attr("stroke", "none");
}

function addParts(t, parts, fs) {
  parts.forEach(([s, sub]) => {
    const ts = t.append("tspan").text(s);
    if (sub) ts.attr("baseline-shift", "sub").style("font-size", (fs * 0.7) + "px");
  });
}

function yTitle(cx, cy, fs, parts) {
  const t = svg.append("text")
    .attr("transform", `translate(${cx},${cy}) rotate(-90)`)
    .attr("text-anchor", "middle").attr("dy", "0.36em")
    .style("font-size", fs + "px");
  addParts(t, parts, fs);
}

function xTitle(cx, by, fs, str) {
  svg.append("text").attr("x", cx).attr("y", by).attr("text-anchor", "middle")
    .style("font-size", fs + "px").text(str);
}

function dosLegend(title, tx, ty, lx0, lx1, textX, rows, entries) {
  const fs = 19;
  svg.append("text").attr("x", tx).attr("y", ty).style("font-size", fs + "px")
    .style("font-style", "italic").text(title);
  entries.forEach((e, i) => {
    svg.append("line").attr("x1", lx0).attr("x2", lx1).attr("y1", rows[i]).attr("y2", rows[i])
      .attr("stroke", e.color).attr("stroke-width", 3.5);
    const t = svg.append("text").attr("x", textX).attr("y", rows[i] + 7)
      .style("font-size", fs + "px").style("font-style", "italic");
    addParts(t, e.parts, fs);
  });
}

const common = { xMajor: energyMajor, xMinor: energyMinor, xFs: 15, yFs: 16 };

// ---------- (a) Cubic LSMO ----------
const A = makePanel(Object.assign({}, common, {
  name: "A", x0: 100, x1: 570, y0: 11, y1: 322, xDomain: [-8, 4], yDomain: [-4, 4],
  yMajor: dosMajor, yMinor: dosMinor, xPad: 23, yPad: 8
}));
addZeroLines(A);
drawFill(A, lsmoEgUp, BLUE);
drawFill(A, lsmoEgDn, BLUE);
drawFill(A, lsmoT2gUp, RED);
drawFill(A, lsmoT2gDn, RED);
drawLine(A, lsmoEgUp, BLUE, 2.5);
drawLine(A, lsmoEgDn, BLUE, 2.5);
drawLine(A, lsmoT2gUp, RED, 2.5);
drawLine(A, lsmoT2gDn, RED, 2.5);
drawLine(A, cubicTotUp, BLACK, 3);
drawLine(A, cubicTotDn, BLACK, 3);
dosLegend("(a) Cubic LSMO", 203, 201, 207, 243, 255, [223, 253, 284], [
  { color: BLACK, parts: [["Total-d-DOS"]] },
  { color: RED, parts: [["d-t"], ["2g", true]] },
  { color: BLUE, parts: [["d-e"], ["g", true]] }
]);
yTitle(42, 167, 27, [["DOS (1/eV)"]]);
xTitle(329, 394, 24.5, "Energy (eV)");

// ---------- (b) Mn-O constant, total DOS ----------
const B = makePanel(Object.assign({}, common, {
  name: "B", x0: 667.5, x1: 1139, y0: 11, y1: 322, xDomain: [-8, 4], yDomain: [-4, 4],
  yMajor: dosMajor, yMinor: dosMinor, xPad: 23, yPad: 9.5
}));
addZeroLines(B);
drawLine(B, ngoUp, BLUE, 2.5);
drawLine(B, ngoDn, BLUE, 2.5);
drawLine(B, gfoUp, RED, 2.5);
drawLine(B, gfoDn, RED, 2.5);
drawLine(B, cubicTotUp, BLACK, 3);
drawLine(B, cubicTotDn, BLACK, 3);
dosLegend("(b) Mn-O Constant", 766, 207, 771, 806, 818, [230, 260, 290], [
  { color: BLACK, parts: [["Cubic"]] },
  { color: RED, parts: [["GFO-type"]] },
  { color: BLUE, parts: [["NGO-type"]] }
]);
yTitle(611, 186, 32.5, [["Total DOS (1/eV)"]]);
xTitle(897, 394, 24.5, "Energy (eV)");

// ---------- (c) Mn-O constant, eg DOS ----------
const C = makePanel(Object.assign({}, common, {
  name: "C", x0: 100, x1: 570, y0: 421, y1: 732, xDomain: [-8, 4], yDomain: [-1, 1],
  yMajor: egMajor, yMinor: egMinor, xPad: 23, yPad: 8
}));
addZeroLines(C);
drawLine(C, ngoEgUp, BLUE, 2.5);
drawLine(C, ngoEgDn, BLUE, 2.5);
drawLine(C, gfoEgUp, RED, 2.5);
drawLine(C, gfoEgDn, RED, 2.5);
drawLine(C, cubicEgUp, BLACK, 2.8);
drawLine(C, cubicEgDn, BLACK, 2.8);
dosLegend("(c) Mn-O Constant", 202, 627, 207, 242, 253, [648, 678, 708], [
  { color: BLACK, parts: [["Cubic"]] },
  { color: RED, parts: [["GFO-type"]] },
  { color: BLUE, parts: [["NGO-type"]] }
]);
yTitle(24, 585, 33, [["DOS of e"], ["g", true], [" (1/eV)"]]);
xTitle(329, 803, 24.5, "Energy (eV)");

// ---------- (d) Bandwidth vs. structure ----------
const D = makePanel({
  name: "D", x0: 667.5, x1: 1139, y0: 420, y1: 733, xDomain: [181, 150], yDomain: [1.5, 5],
  xMajor: angleMajor, xMinor: angleMinor, yMajor: bwMajor, yMinor: bwMinor,
  xPad: 22, yPad: 5.5, xFs: 17, yFs: 16
});
const series = [
  { ang: mnOAngle, val: mnOEg, color: BLUE, shape: "circle", open: false, label: [["Mn-O Constnat e"], ["g", true]] },
  { ang: mnOAngle, val: mnOT2g, color: BLUE, shape: "circle", open: true, label: [["Mn-O Constnat t"], ["2g", true]] },
  { ang: mnMnAngle, val: mnMnEg, color: RED, shape: "square", open: false, label: [["Mn-Mn Constnat e"], ["g", true]] },
  { ang: mnMnAngle, val: mnMnT2g, color: RED, shape: "square", open: true, label: [["Mn-Mn Constnat t"], ["2g", true]] }
];

function marker(g, cx, cy, s) {
  if (s.shape === "circle") {
    g.append("circle").attr("cx", cx).attr("cy", cy).attr("r", s.open ? 7 : 8.5)
      .attr("fill", s.open ? "#fff" : s.color).attr("stroke", s.color)
      .attr("stroke-width", s.open ? 3.5 : 0);
  } else {
    const h = s.open ? 7.5 : 8.5;
    g.append("rect").attr("x", cx - h).attr("y", cy - h).attr("width", 2 * h).attr("height", 2 * h)
      .attr("fill", s.open ? "#fff" : s.color).attr("stroke", s.color)
      .attr("stroke-width", s.open ? 3.5 : 0);
  }
}

const dLine = d3.line().x(d => D.x(d[0])).y(d => D.y(d[1]));
series.forEach(s => {
  const pts = s.ang.map((a, i) => [a, s.val[i]]);
  D.g.append("path").datum(pts).attr("d", dLine).attr("fill", "none")
    .attr("stroke", s.color).attr("stroke-width", 4.5);
  pts.forEach(p => marker(D.g, D.x(p[0]), D.y(p[1]), s));
});

// legend (d)
svg.append("text").attr("x", 760).attr("y", 557).style("font-size", "15px")
  .text("(d) Bandwidth vs. Structure");
const dRows = [575, 600, 625, 650];
series.forEach((s, i) => {
  svg.append("line").attr("x1", 763).attr("x2", 815).attr("y1", dRows[i]).attr("y2", dRows[i])
    .attr("stroke", s.color).attr("stroke-width", 4.5);
  marker(svg, 789, dRows[i], s);
  const t = svg.append("text").attr("x", 824).attr("y", dRows[i] + 6).style("font-size", "15px");
  addParts(t, s.label, 15);
});

yTitle(610, 595, 27.5, [["Bandwidth (eV)"]]);
xTitle(911, 806, 24.5, "<Mn-O-Mn> (degree)");
</script>
</body>
</html>
